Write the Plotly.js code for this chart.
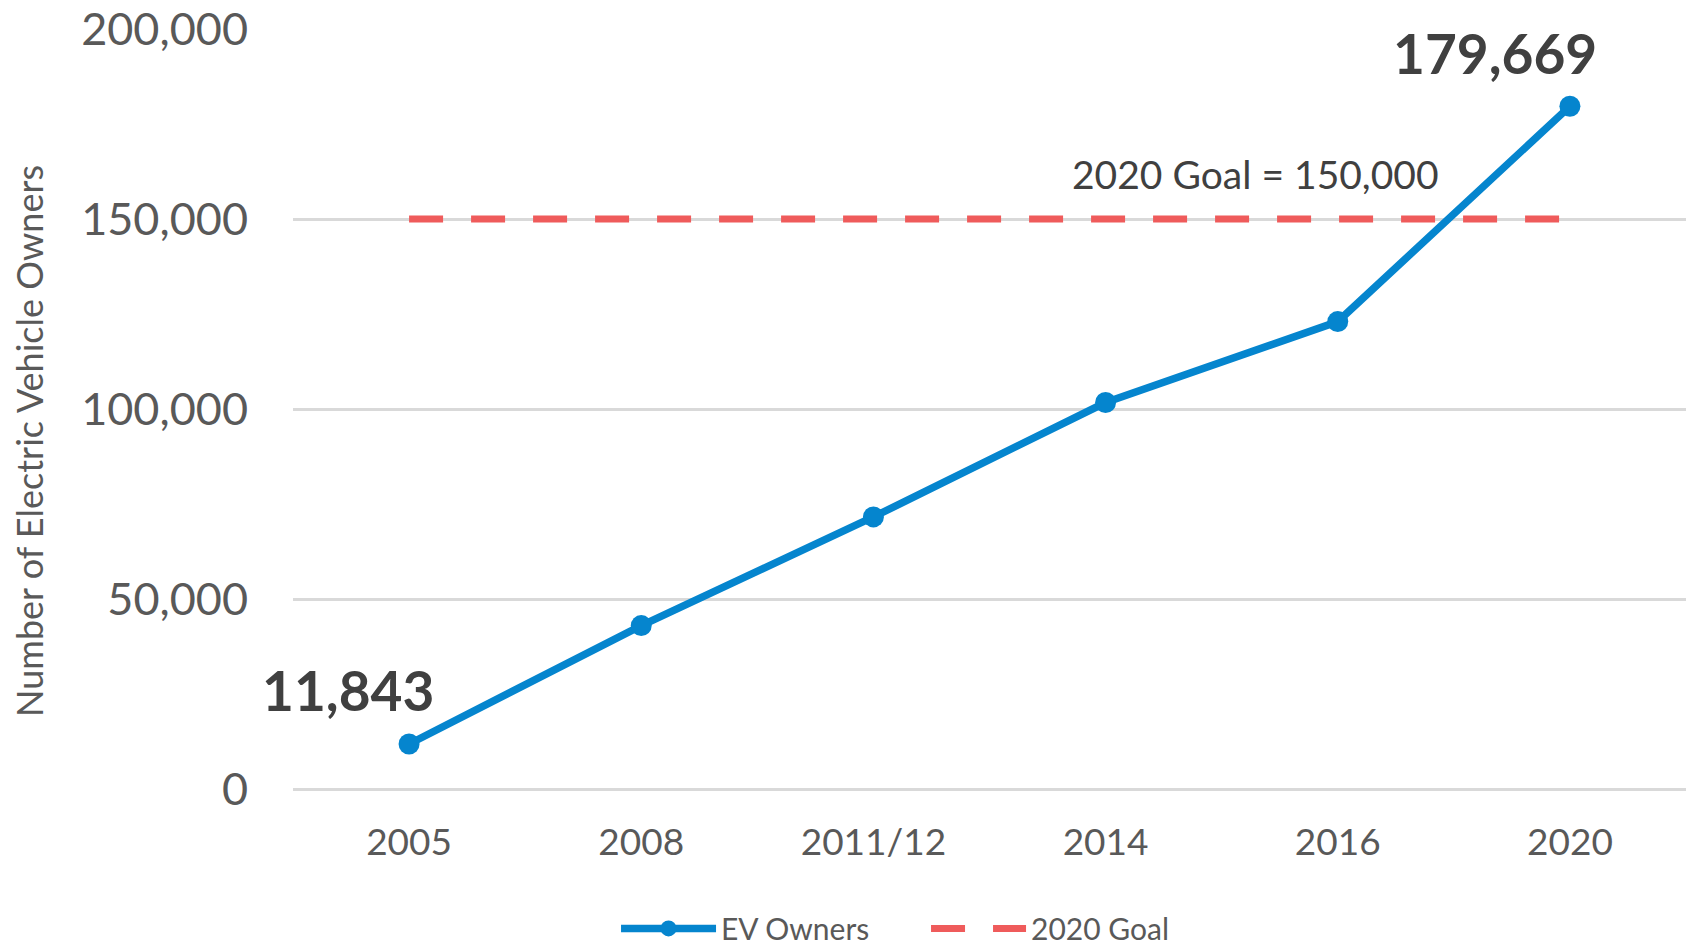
<!DOCTYPE html>
<html>
<head>
<meta charset="utf-8">
<script src="https://cdn.plot.ly/plotly-3.0.1.min.js"></script>
<style>html,body{margin:0;padding:0;background:#fff;}#chart{width:1692px;height:947px;}</style>
</head>
<body>
<div id="chart"></div>
<script>
const categories = ["2005", "2008", "2011/12", "2014", "2016", "2020"];
const evOwners = [11843, 43000, 71600, 101700, 123000, 179669];
const goalValues = [150000, 150000, 150000, 150000, 150000, 150000];
const yTickValues = [0, 50000, 100000, 150000, 200000];
const yTickLabels = ["0", "50,000", "100,000", "150,000", "200,000"];

const FONT = "Lato, 'Open Sans', sans-serif";
const BLUE = "#0585CE";
const RED = "#EF5B5B";
const GREY = "#595959";
const DARK = "#404040";

const traces = [
  {
    x: categories, y: evOwners, name: "EV Owners", type: "scatter", mode: "lines+markers",
    line: {color: BLUE, width: 7.5},
    marker: {color: BLUE, size: 21},
    hoverinfo: "x+y"
  },
  {
    x: categories, y: goalValues, name: "2020 Goal", type: "scatter", mode: "lines",
    line: {color: RED, width: 7, dash: "34px,28px"},
    hoverinfo: "x+y"
  }
];

const fmt = v => v.toLocaleString("en-US");
// category positions (index on the category axis) for the labelled points
const firstIdx = 0;
const lastIdx = categories.length - 1;
const goalLabelIdx = categories.indexOf("2016");

const layout = {
  width: 1692, height: 947,
  margin: {l: 293, r: 6, t: 29, b: 158, autoexpand: false},
  paper_bgcolor: "#fff", plot_bgcolor: "#fff",
  font: {family: FONT, color: GREY},
  showlegend: true,
  legend: {
    orientation: "h", x: 0.2319, xanchor: "left", y: -0.1835, yanchor: "middle",
    font: {family: FONT, size: 30, color: GREY},
    itemwidth: 95, entrywidth: 200, entrywidthmode: "pixels"
  },
  xaxis: {
    type: "category", range: [-0.5, 5.5],
    showgrid: false, zeroline: false, showline: false,
    ticks: "", tickfont: {family: FONT, size: 37, color: GREY},
    ticklabelstandoff: 28
  },
  yaxis: {
    range: [0, 200000], tickvals: yTickValues, ticktext: yTickLabels,
    showgrid: true, gridcolor: "#D9D9D9", gridwidth: 3,
    zeroline: true, zerolinecolor: "#D9D9D9", zerolinewidth: 3,
    showline: false, ticks: "",
    tickfont: {family: FONT, size: 45, color: GREY},
    ticklabelstandoff: 44
  },
  annotations: [
    {
      xref: "paper", yref: "paper", x: -0.1895, y: 0.458, xanchor: "center", yanchor: "middle",
      textangle: -90, text: "Number of Electric Vehicle Owners", showarrow: false,
      font: {family: FONT, size: 36, color: GREY}
    },
    {
      xref: "x", yref: "y", x: firstIdx, y: evOwners[firstIdx],
      xanchor: "center", yanchor: "middle",
      text: "<b>" + fmt(evOwners[firstIdx]) + "</b>", showarrow: false,
      xshift: -61, yshift: 54, font: {family: FONT, size: 55, color: DARK}
    },
    {
      xref: "x", yref: "y", x: lastIdx, y: evOwners[lastIdx],
      xanchor: "center", yanchor: "middle",
      text: "<b>" + fmt(evOwners[lastIdx]) + "</b>", showarrow: false,
      xshift: -75, yshift: 53, font: {family: FONT, size: 55, color: DARK}
    },
    {
      xref: "x", yref: "y", x: goalLabelIdx, y: goalValues[goalLabelIdx],
      xanchor: "center", yanchor: "middle",
      text: "2020 Goal = " + fmt(goalValues[goalLabelIdx]), showarrow: false,
      xshift: -82, yshift: 45, font: {family: FONT, size: 39, color: DARK}
    }
  ]
};

Plotly.newPlot("chart", traces, layout, {displayModeBar: false, responsive: false});
</script>
</body>
</html>
